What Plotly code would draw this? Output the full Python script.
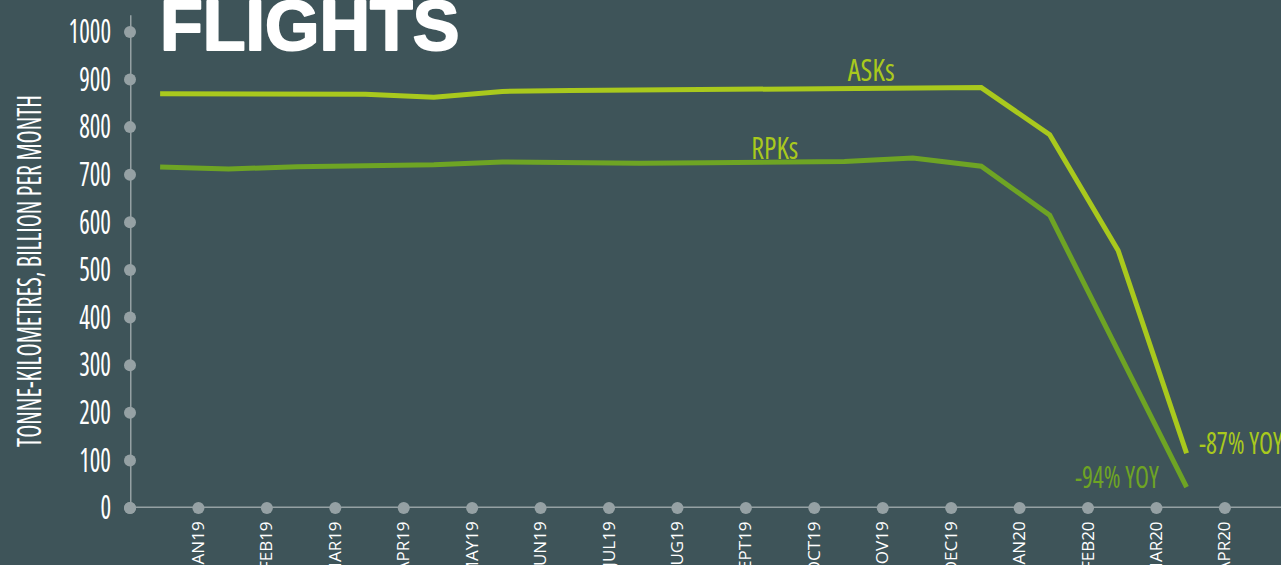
import plotly.graph_objects as go

# Monthly traffic, Jan 2019 - Apr 2020 (billion tonne-km per month)
months = ["JAN19", "FEB19", "MAR19", "APR19", "MAY19", "JUN19", "JUL19", "AUG19",
          "SEPT19", "OCT19", "NOV19", "DEC19", "JAN20", "FEB20", "MAR20", "APR20"]
asks = [870, 869, 868, 869, 863, 875, 877, 878, 878, 879, 881, 883, 883, 784, 541, 115]
rpks = [716, 712, 717, 719, 721, 727, 725, 724, 725, 726, 728, 735, 718, 615, 332, 44]
y_ticks = [0, 100, 200, 300, 400, 500, 600, 700, 800, 900, 1000]

BG = "#3e5459"
AXIS = "#95a1a4"
ASK_COL = "#a9c91d"
RPK_COL = "#6ea424"
FONT = "Open Sans, sans-serif"

tick_pos = list(range(len(months)))
# data points sit roughly half a step before each month tick
data_x = [i - 0.56 for i in tick_pos]

fig = go.Figure()

# axis lines drawn as shapes, with dot markers at every tick
fig.add_shape(type="line", xref="x", yref="y", x0=-1, x1=15.82, y0=0, y1=0,
              line=dict(color=AXIS, width=3), layer="below")
fig.add_shape(type="line", xref="x", yref="y", x0=-1, x1=-1, y0=0, y1=1035,
              line=dict(color=AXIS, width=3), layer="below")

fig.add_trace(go.Scatter(x=[-1] + tick_pos, y=[0] * (len(tick_pos) + 1), mode="markers",
                         marker=dict(color=AXIS, size=12), cliponaxis=False,
                         hoverinfo="skip", showlegend=False))
fig.add_trace(go.Scatter(x=[-1] * len(y_ticks), y=y_ticks, mode="markers",
                         marker=dict(color=AXIS, size=12), cliponaxis=False,
                         hoverinfo="skip", showlegend=False))

fig.add_trace(go.Scatter(x=data_x, y=asks, mode="lines", name="ASKs",
                         line=dict(color=ASK_COL, width=5), cliponaxis=False,
                         showlegend=False))
fig.add_trace(go.Scatter(x=data_x, y=rpks, mode="lines", name="RPKs",
                         line=dict(color=RPK_COL, width=5), cliponaxis=False,
                         showlegend=False))

annotations = [
    dict(text="ASKs", x=9.83, y=923, xref="x", yref="y", showarrow=False,
         font=dict(family=FONT, size=31, color=ASK_COL)),
    dict(text="RPKs", x=8.42, y=759, xref="x", yref="y", showarrow=False,
         font=dict(family=FONT, size=31, color=ASK_COL)),
    dict(text="-94% YOY", x=13.43, y=67, xref="x", yref="y", showarrow=False,
         font=dict(family=FONT, size=31, color=RPK_COL)),
    dict(text="-87% YOY", x=15.24, y=139, xref="x", yref="y", showarrow=False,
         font=dict(family=FONT, size=31, color=ASK_COL)),
    dict(text="<b>FLIGHTS</b>", x=0.024, y=0.968, xref="paper", yref="paper",
         xanchor="left", yanchor="middle", showarrow=False,
         font=dict(family="Liberation Sans, Arial, sans-serif", size=70, color="white")),
    dict(text="TONNE-KILOMETRES, BILLION PER MONTH", x=0, y=0.476, xref="paper",
         yref="paper", xanchor="center", yanchor="middle", xshift=-101,
         textangle=-90, showarrow=False,
         font=dict(family=FONT, size=32, color="white")),
]

fig.update_layout(
    width=1281, height=565,
    margin=dict(l=130, r=0, t=10, b=57),
    paper_bgcolor=BG, plot_bgcolor=BG,
    annotations=annotations,
    xaxis=dict(range=[-1, 15.82], tickvals=tick_pos, ticktext=months,
               tickangle=-90, showgrid=False, zeroline=False, showline=False,
               ticks="", ticklabelstandoff=9, automargin=False,
               tickfont=dict(family=FONT, size=17, color="white")),
    yaxis=dict(range=[0, 1046], tickvals=y_ticks, showgrid=False, zeroline=False,
               showline=False, ticks="", ticklabelstandoff=18, automargin=False,
               tickfont=dict(family=FONT, size=32, color="white")),
)

# Condensed lettering: use the narrow width of Open Sans and tighten the
# glyphs of the value labels, series labels and axis title; give the
# headline a heavier stroke.
condense_js = """
var st = document.createElement('style');
st.textContent = '.ytick text, .annotation-text {font-stretch: 75%;}';
document.head.appendChild(st);
function squeeze(el, len) {
  el.setAttribute('lengthAdjust', 'spacingAndGlyphs');
  el.setAttribute('textLength', len);
}
document.querySelectorAll('.ytick text').forEach(function (el) {
  squeeze(el, el.getComputedTextLength() * 0.78);
});
var widths = {'ASKs': 47, 'RPKs': 47, '-94% YOY': 84, '-87% YOY': 84,
              'TONNE-KILOMETRES, BILLION PER MONTH': 352};
document.querySelectorAll('.annotation-text').forEach(function (el) {
  var w = widths[el.textContent];
  if (w) { squeeze(el, w); }
  if (el.textContent === 'FLIGHTS') {
    el.style.stroke = 'white';
    el.style.strokeWidth = '2px';
    el.style.strokeLinejoin = 'round';
  }
});
"""

fig.write_html("out.html", post_script=condense_js)
